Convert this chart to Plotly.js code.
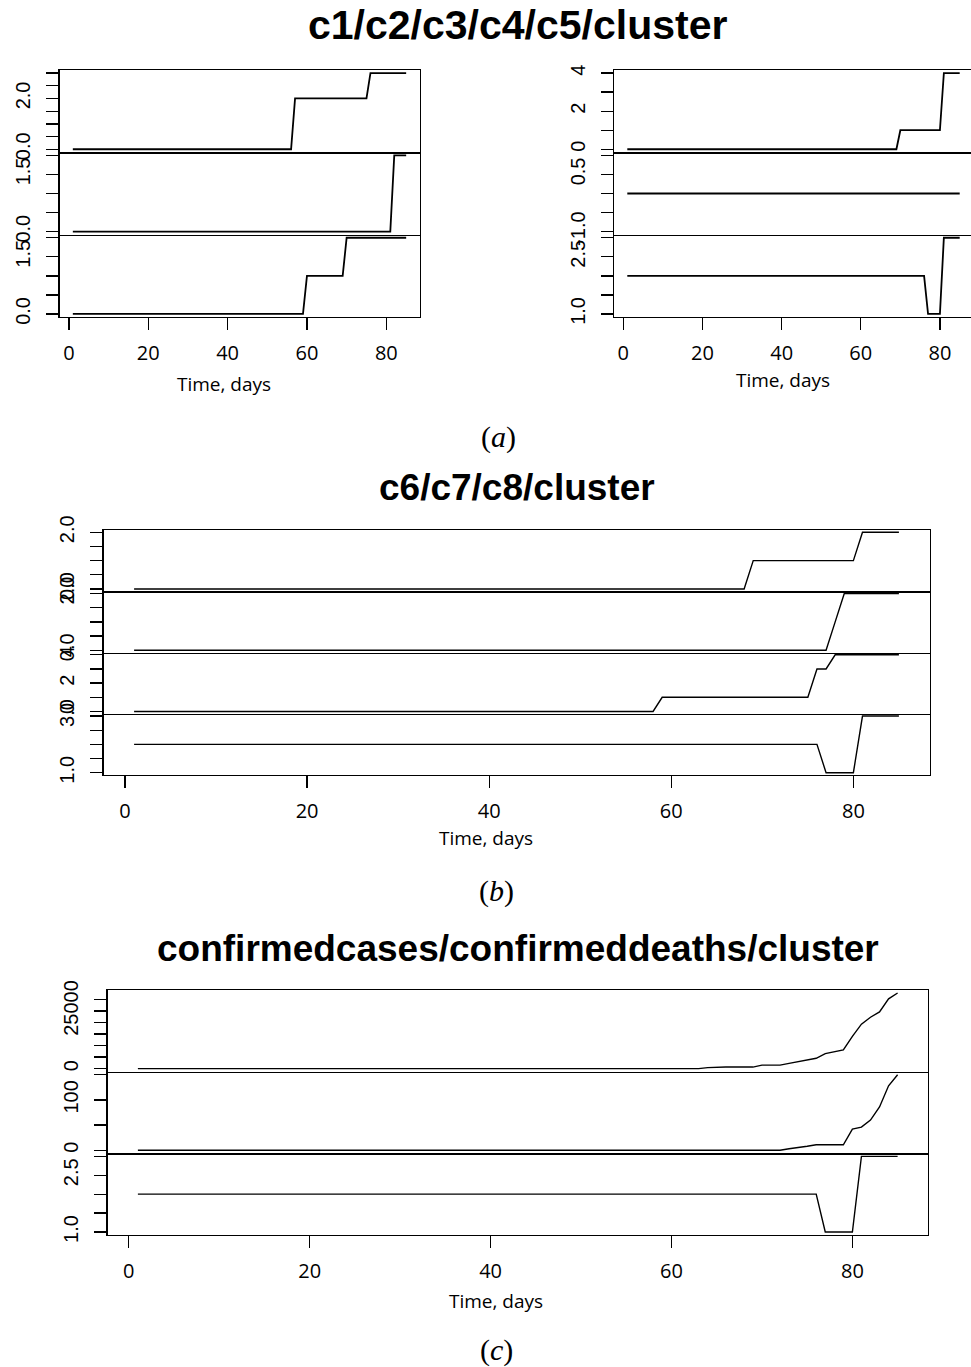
<!DOCTYPE html>
<html>
<head>
<meta charset="utf-8">
<script src="https://cdn.plot.ly/plotly-3.0.1.min.js"></script>
<style>
html,body{margin:0;padding:0;overflow:hidden;background:#fff;}
#plot{width:975px;height:1367px;}
</style>
</head>
<body>
<div id="plot"></div>
<script>
// ---------------- DATA ----------------
const days = [
  1,2,3,4,5,6,7,8,9,10, 11,12,13,14,15,16,17,18,19,20,
  21,22,23,24,25,26,27,28,29,30, 31,32,33,34,35,36,37,38,39,40,
  41,42,43,44,45,46,47,48,49,50, 51,52,53,54,55,56,57,58,59,60,
  61,62,63,64,65,66,67,68,69,70, 71,72,73,74,75,76,77,78,79,80,
  81,82,83,84,85];

const c1 = [
  0,0,0,0,0,0,0,0,0,0, 0,0,0,0,0,0,0,0,0,0,
  0,0,0,0,0,0,0,0,0,0, 0,0,0,0,0,0,0,0,0,0,
  0,0,0,0,0,0,0,0,0,0, 0,0,0,0,0,0,2,2,2,2,
  2,2,2,2,2,2,2,2,2,2, 2,2,2,2,2,3,3,3,3,3,
  3,3,3,3,3];
const c2 = [
  0,0,0,0,0,0,0,0,0,0, 0,0,0,0,0,0,0,0,0,0,
  0,0,0,0,0,0,0,0,0,0, 0,0,0,0,0,0,0,0,0,0,
  0,0,0,0,0,0,0,0,0,0, 0,0,0,0,0,0,0,0,0,0,
  0,0,0,0,0,0,0,0,0,0, 0,0,0,0,0,0,0,0,0,0,
  0,2,2,2,2];
const c3 = [
  0,0,0,0,0,0,0,0,0,0, 0,0,0,0,0,0,0,0,0,0,
  0,0,0,0,0,0,0,0,0,0, 0,0,0,0,0,0,0,0,0,0,
  0,0,0,0,0,0,0,0,0,0, 0,0,0,0,0,0,0,0,0,1,
  1,1,1,1,1,1,1,1,1,2, 2,2,2,2,2,2,2,2,2,2,
  2,2,2,2,2];
const c4 = [
  0,0,0,0,0,0,0,0,0,0, 0,0,0,0,0,0,0,0,0,0,
  0,0,0,0,0,0,0,0,0,0, 0,0,0,0,0,0,0,0,0,0,
  0,0,0,0,0,0,0,0,0,0, 0,0,0,0,0,0,0,0,0,0,
  0,0,0,0,0,0,0,0,0,1, 1,1,1,1,1,1,1,1,1,1,
  4,4,4,4,4];
const c5 = [
  0,0,0,0,0,0,0,0,0,0, 0,0,0,0,0,0,0,0,0,0,
  0,0,0,0,0,0,0,0,0,0, 0,0,0,0,0,0,0,0,0,0,
  0,0,0,0,0,0,0,0,0,0, 0,0,0,0,0,0,0,0,0,0,
  0,0,0,0,0,0,0,0,0,0, 0,0,0,0,0,0,0,0,0,0,
  0,0,0,0,0];
const cluster = [
  2,2,2,2,2,2,2,2,2,2, 2,2,2,2,2,2,2,2,2,2,
  2,2,2,2,2,2,2,2,2,2, 2,2,2,2,2,2,2,2,2,2,
  2,2,2,2,2,2,2,2,2,2, 2,2,2,2,2,2,2,2,2,2,
  2,2,2,2,2,2,2,2,2,2, 2,2,2,2,2,2,1,1,1,1,
  3,3,3,3,3];
const c6 = [
  0,0,0,0,0,0,0,0,0,0, 0,0,0,0,0,0,0,0,0,0,
  0,0,0,0,0,0,0,0,0,0, 0,0,0,0,0,0,0,0,0,0,
  0,0,0,0,0,0,0,0,0,0, 0,0,0,0,0,0,0,0,0,0,
  0,0,0,0,0,0,0,0,1,1, 1,1,1,1,1,1,1,1,1,1,
  2,2,2,2,2];
const c7 = [
  0,0,0,0,0,0,0,0,0,0, 0,0,0,0,0,0,0,0,0,0,
  0,0,0,0,0,0,0,0,0,0, 0,0,0,0,0,0,0,0,0,0,
  0,0,0,0,0,0,0,0,0,0, 0,0,0,0,0,0,0,0,0,0,
  0,0,0,0,0,0,0,0,0,0, 0,0,0,0,0,0,0,1,2,2,
  2,2,2,2,2];
const c8 = [
  0,0,0,0,0,0,0,0,0,0, 0,0,0,0,0,0,0,0,0,0,
  0,0,0,0,0,0,0,0,0,0, 0,0,0,0,0,0,0,0,0,0,
  0,0,0,0,0,0,0,0,0,0, 0,0,0,0,0,0,0,0,1,1,
  1,1,1,1,1,1,1,1,1,1, 1,1,1,1,1,3,3,4,4,4,
  4,4,4,4,4];
const confirmedcases = [
  0,0,0,0,0,0,0,0,0,0, 0,0,0,0,0,0,0,0,0,0,
  0,0,0,0,0,0,0,0,0,0, 0,0,0,0,0,0,0,0,0,0,
  0,0,0,0,0,0,0,0,0,0, 0,0,0,0,0,0,0,0,0,0,
  0,0,0,450,700,700,700,700,700,1550,
  1550,1550,2300,3100,3800,4500,6550,7250,8100,14000,
  19300,22300,24600,30300,32800];
const confirmeddeaths = [
  0,0,0,0,0,0,0,0,0,0, 0,0,0,0,0,0,0,0,0,0,
  0,0,0,0,0,0,0,0,0,0, 0,0,0,0,0,0,0,0,0,0,
  0,0,0,0,0,0,0,0,0,0, 0,0,0,0,0,0,0,0,0,0,
  0,0,0,0,0,0,0,0,0,0, 0,0,3,5,8,11,11,11,11,42,
  46,60,86,128,150];

// tick values and labels
const xTicks = [0, 20, 40, 60, 80];
const xTickLabels = ["0", "20", "40", "60", "80"];
const ticks0to3 = [0, 0.5, 1, 1.5, 2, 2.5, 3];
const labels0to3 = ["0.0", "", "", "", "2.0", "", ""];
const ticks0to2 = [0, 0.5, 1, 1.5, 2];
const labels0to2a = ["0.0", "", "", "1.5", ""];
const labels0to2b = ["0.0", "", "", "", "2.0"];
const ticks0to4 = [0, 1, 2, 3, 4];
const labels0to4 = ["0", "", "2", "", "4"];
const ticksM1to1 = [-1, -0.5, 0, 0.5, 1];
const labelsM1to1 = ["-1.0", "", "", "0.5", ""];
const ticks1to3 = [1, 1.5, 2, 2.5, 3];
const labels1to3a = ["1.0", "", "", "2.5", ""];
const labels1to3b = ["1.0", "", "", "", "3.0"];
const ticksCases = [0, 5000, 10000, 15000, 20000, 25000, 30000];
const labelsCases = ["0", "", "", "", "", "25000", ""];
const ticksDeaths = [0, 50, 100, 150];
const labelsDeaths = ["0", "", "100", ""];

const titleA = "c1/c2/c3/c4/c5/cluster";
const titleB = "c6/c7/c8/cluster";
const titleC = "confirmedcases/confirmeddeaths/cluster";
const xTitle = "Time, days";

// ---------------- LAYOUT ----------------
const W = 975, H = 1367;
function xd(a, b) { return [a / W, b / W]; }
function yd(top, bot) { return [1 - bot / H, 1 - top / H]; }
// R-style range: data range extended by 4%
function rRange(v) {
  let mn = Math.min(...v), mx = Math.max(...v);
  if (mn === mx) {
    if (mn === 0) { mn = -1; mx = 1; } else { const a = Math.abs(mn) * 0.4; mn -= a; mx += a; }
  }
  const d = (mx - mn) * 0.04;
  return [mn - d, mx + d];
}

const panels = [
  // (a) left
  {x: [59.5, 419.5], y: [70, 152.3], s: c1, tv: ticks0to3, tt: labels0to3, top: true, bottom: false, lw: 1.8},
  {x: [59.5, 419.5], y: [152.3, 234.7], s: c2, tv: ticks0to2, tt: labels0to2a, top: false, bottom: false, lw: 1.8},
  {x: [59.5, 419.5], y: [234.7, 317], s: c3, tv: ticks0to2, tt: labels0to2a, top: false, bottom: true, lw: 1.8},
  // (a) right
  {x: [614, 973], y: [70, 152.3], s: c4, tv: ticks0to4, tt: labels0to4, top: true, bottom: false, lw: 1.8},
  {x: [614, 973], y: [152.3, 234.7], s: c5, tv: ticksM1to1, tt: labelsM1to1, top: false, bottom: false, lw: 1.8},
  {x: [614, 973], y: [234.7, 317], s: cluster, tv: ticks1to3, tt: labels1to3a, top: false, bottom: true, lw: 1.8},
  // (b)
  {x: [103.5, 929.5], y: [530, 591.25], s: c6, tv: ticks0to2, tt: labels0to2b, top: true, bottom: false, lw: 1.4},
  {x: [103.5, 929.5], y: [591.25, 652.5], s: c7, tv: ticks0to2, tt: labels0to2b, top: false, bottom: false, lw: 1.4},
  {x: [103.5, 929.5], y: [652.5, 713.75], s: c8, tv: ticks0to4, tt: labels0to4, top: false, bottom: false, lw: 1.4},
  {x: [103.5, 929.5], y: [713.75, 775], s: cluster, tv: ticks1to3, tt: labels1to3b, top: false, bottom: true, lw: 1.4},
  // (c)
  {x: [107.5, 928], y: [990, 1071.7], s: confirmedcases, tv: ticksCases, tt: labelsCases, top: true, bottom: false, lw: 1.4},
  {x: [107.5, 928], y: [1071.7, 1153.3], s: confirmeddeaths, tv: ticksDeaths, tt: labelsDeaths, top: false, bottom: false, lw: 1.4},
  {x: [107.5, 928], y: [1153.3, 1235], s: cluster, tv: ticks1to3, tt: labels1to3a, top: false, bottom: true, lw: 1.4}
];

const traces = [];
const layout = {
  width: W, height: H,
  margin: {l: 0, r: 0, t: 0, b: 0},
  paper_bgcolor: "#fff", plot_bgcolor: "rgba(0,0,0,0)",
  showlegend: false,
  annotations: [],
  font: {family: "Liberation Sans, Arial, sans-serif", color: "#000"}
};

const xr = rRange(days);
panels.forEach((p, i) => {
  const n = i + 1;
  const xa = "x" + n, ya = "y" + n;
  traces.push({
    x: days, y: p.s, type: "scatter", mode: "lines",
    xaxis: xa, yaxis: ya,
    line: {color: "#000", width: p.lw}, hoverinfo: "skip"
  });
  layout["xaxis" + n] = {
    domain: xd(p.x[0], p.x[1]), range: xr, anchor: ya,
    showline: true, mirror: p.top, linecolor: "#000", linewidth: 1.3,
    showgrid: false, zeroline: false,
    ticks: p.bottom ? "outside" : "", ticklen: 12, tickwidth: 1.3, tickcolor: "#000",
    tickmode: "array", tickvals: xTicks, ticktext: xTickLabels,
    showticklabels: p.bottom, ticklabelstandoff: 6,
    tickfont: {family: "Open Sans, sans-serif", size: 20, color: "#000"},
    fixedrange: true
  };
  layout["yaxis" + n] = {
    domain: yd(p.y[0], p.y[1]), range: rRange(p.s), anchor: xa,
    showline: true, mirror: true, linecolor: "#000", linewidth: 1.3,
    showgrid: false, zeroline: false,
    ticks: "outside", ticklen: 12, tickwidth: 1.3, tickcolor: "#000",
    tickmode: "array", tickvals: p.tv, ticktext: p.tt,
    tickangle: -90, ticklabelstandoff: 8,
    tickfont: {family: "Liberation Sans, Arial, sans-serif", size: 20, color: "#000"},
    fixedrange: true
  };
});

function ann(text, px, py, font) {
  layout.annotations.push({
    text: text, xref: "paper", yref: "paper",
    x: px / W, y: 1 - py / H, xanchor: "center", yanchor: "middle",
    showarrow: false, font: font
  });
}
const titleFont = (s) => ({family: "Liberation Sans, Arial, sans-serif", size: s, color: "#000", weight: 700});
ann("<b>" + titleA + "</b>", 517, 25, titleFont(41));
ann("<b>" + titleB + "</b>", 517, 487, titleFont(37));
ann("<b>" + titleC + "</b>", 518, 948, titleFont(37));
const axFont = {family: "Open Sans, sans-serif", size: 19, color: "#000"};
ann(xTitle, 224, 384, axFont);
ann(xTitle, 783, 380, axFont);
ann(xTitle, 486, 838, axFont);
ann(xTitle, 496, 1301, axFont);
const capFont = {family: "Liberation Serif, Times New Roman, serif", size: 30, color: "#000"};
ann("(<i>a</i>)", 498, 437, capFont);
ann("(<i>b</i>)", 496, 891, capFont);
ann("(<i>c</i>)", 496, 1350, capFont);

Plotly.newPlot("plot", traces, layout, {staticPlot: true, displayModeBar: false});
</script>
</body>
</html>
